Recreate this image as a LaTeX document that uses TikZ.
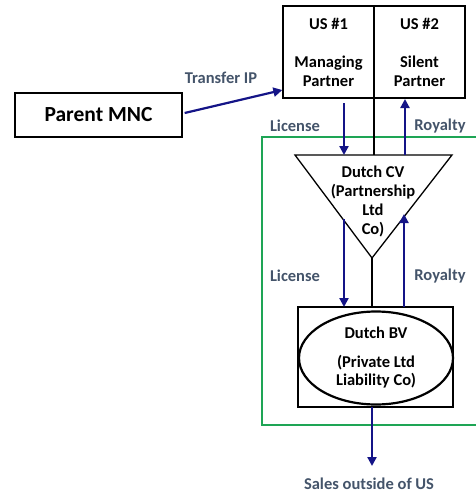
\documentclass[tikz,border=0pt]{standalone}
\usepackage{fontspec}
\setmainfont{Carlito}
\usepackage{tikz}
\usetikzlibrary{arrows.meta,shapes.geometric}

\definecolor{flowblue}{RGB}{20,20,135}
\definecolor{labelgray}{RGB}{68,84,106}
\definecolor{cvgreen}{RGB}{30,165,85}

\begin{document}
\begin{tikzpicture}[x = 1pt, y = -1pt,
                    txt/.style = {font = \fontsize{16.5}{18.5}\selectfont\bfseries, align = center},
                    box/.style = {draw, line width = 1.3pt, inner sep = 0pt},
                    flow/.style = {draw = flowblue, line width = 2.2pt, -{Triangle[length=9pt, width=9pt]}},
                    link/.style = {draw, line width = 1.8pt},
                    lbl/.style = {font = \fontsize{16.5}{18}\selectfont\bfseries, text = labelgray}]

\useasboundingbox (0,0) rectangle (476,493);

% green frame
\draw[cvgreen, line width = 2.2pt] (477,137) -- (262,137) -- (262,425) -- (477,425);

% partners
\node [box, txt, minimum width = 91pt, minimum height = 92pt] (US1) at (328.5,52) {US \#1\\[20pt]Managing\\Partner};
\node [box, txt, minimum width = 91pt, minimum height = 92pt] (US2) at (419.5,52) {US \#2\\[20pt]Silent\\Partner};

% parent
\node [box, minimum width = 167pt, minimum height = 44pt,
       font = \fontsize{21.5}{24}\selectfont\bfseries] (MNC) at (98.5,115) {Parent MNC};

% Dutch CV triangle
\coordinate (CVL) at (295,155);
\coordinate (CVR) at (452,155);
\coordinate (CVA) at (372,258);
\draw[line width = 1.3pt, line join = miter] (CVL) -- (CVR) -- (CVA) -- cycle;
\node [txt, inner sep = 0pt, font = \fontsize{16.5}{19}\selectfont\bfseries] (CV) at (373,201) {Dutch CV\\(Partnership\\Ltd\\Co)};

% Dutch BV
\node [box, minimum width = 155pt, minimum height = 100pt] (BVbox) at (375.5,357) {};
\node [ellipse, draw, line width = 2.2pt, inner sep = 0pt, txt,
       minimum width = 154pt, minimum height = 93pt] (BV) at (376,358) {Dutch BV\\[10pt](Private Ltd\\Liability Co)};

% connector end points
\coordinate (L1s) at (344,103);
\coordinate (L1e) at (344,155);
\coordinate (R1s) at (405,155);
\coordinate (R1e) at (405,99);
\coordinate (L2s) at (344,219);
\coordinate (L2e) at (344,307);
\coordinate (R2s) at (404,307);
\coordinate (R2e) at (404,214);
\coordinate (US12) at (374,98);
\coordinate (CVtop) at (374,155);
\coordinate (BVtop) at (372,307);
\coordinate (BVbot) at (372,407);
\coordinate (sales) at (372,466);

% black links
\draw[link] (US12) -- (CVtop);
\draw[link] (CVA) -- (BVtop);

% flows
\draw[flow] (MNC.east) ++(2,-2) -- (US1.south west |- 0,90);
\draw[flow] (L1s) -- (L1e);
\draw[flow] (R1s) -- (R1e);
\draw[flow] (L2s) -- (L2e);
\draw[flow] (R2s) -- (R2e);
\draw[flow] (BVbot) -- (sales);

% labels
\node [lbl] (tip) at (221,78) {Transfer IP};
\node [lbl] (lic1) at (295,126) {License};
\node [lbl] (roy1) at (440,126) {Royalty};
\node [lbl] (lic2) at (295,276) {License};
\node [lbl] (roy2) at (440,276) {Royalty};
\node [lbl] (out) at (369,484) {Sales outside of US};

\end{tikzpicture}
\end{document}
